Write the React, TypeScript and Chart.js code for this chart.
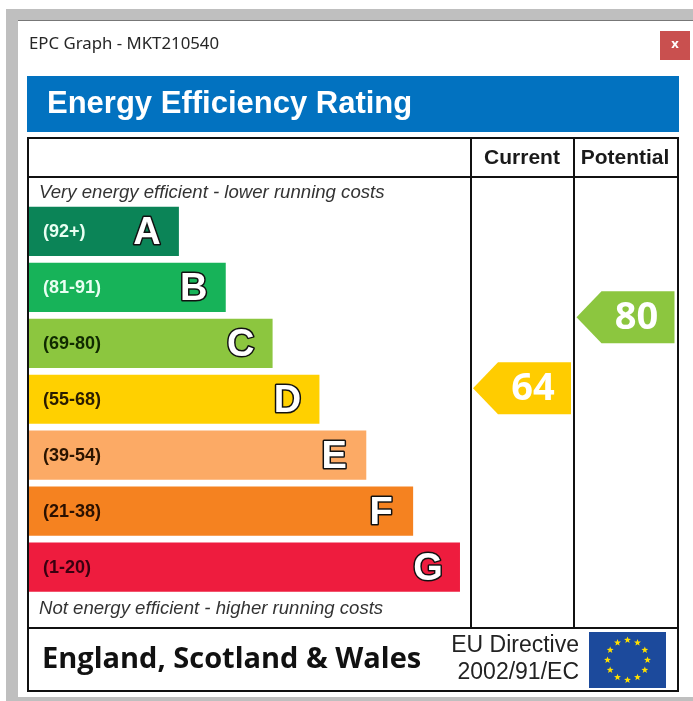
import React, { useEffect, useRef } from "react";
import { Chart, registerables } from "chart.js";

Chart.register(...registerables);

const bandLetters = ["A", "B", "C", "D", "E", "F", "G"];
const bandRanges = ["(92+)", "(81-91)", "(69-80)", "(55-68)", "(39-54)", "(21-38)", "(1-20)"];
const bandLengths = [32, 42, 52, 62, 72, 82, 92];
const bandColors = ["#0b8457", "#17b359", "#8cc63f", "#ffd000", "#fcaa65", "#f58220", "#ee1c3e"];
const rangeColors = ["#e8fff2", "#e8fff2", "#102a00", "#2a1c00", "#2a1400", "#2a1000", "#3a0010"];
const columnNames = ["Current", "Potential"];
const ratingValues = [64, 80];
const ratingColors = ["#ffcc00", "#8cc63f"];

const epcPlugin = {
  id: "epc",
  beforeDraw(chart: any) {
    const c = chart.ctx;
    c.save();
    c.fillStyle = "#ffffff";
    c.fillRect(0, 0, 693, 701);
    c.fillStyle = "#bfbfbf";
    c.fillRect(6, 9, 687, 692);
    c.fillStyle = "#ffffff";
    c.fillRect(18, 21, 675, 676);
    c.fillStyle = "#777777";
    c.fillRect(18, 20, 675, 1);
    c.fillStyle = "#262626";
    c.font = "16.8px 'Noto Sans'";
    c.textBaseline = "middle";
    c.textAlign = "left";
    c.fillText("EPC Graph - MKT210540", 29, 44);
    c.fillStyle = "#c9504f";
    c.fillRect(660, 31, 30, 29);
    c.fillStyle = "#ffffff";
    c.font = "bold 13px 'Noto Sans'";
    c.textAlign = "center";
    c.fillText("x", 675, 44);
    c.fillStyle = "#0272c0";
    c.fillRect(27, 76, 652, 56);
    c.fillStyle = "#ffffff";
    c.font = "bold 31px 'Liberation Sans'";
    c.textAlign = "left";
    c.fillText("Energy Efficiency Rating", 47, 104);

    c.strokeStyle = "#111111";
    c.lineWidth = 2;
    c.strokeRect(28, 138, 650, 553);
    const line = (x1: number, y1: number, x2: number, y2: number) => {
      c.beginPath();
      c.moveTo(x1, y1);
      c.lineTo(x2, y2);
      c.stroke();
    };
    line(28, 177, 678, 177);
    line(28, 628, 678, 628);
    line(471, 138, 471, 628);
    line(574, 138, 574, 628);

    c.fillStyle = "#1a1a1a";
    c.font = "bold 21px 'Liberation Sans'";
    c.textAlign = "center";
    c.fillText(columnNames[0], 522, 158);
    c.fillText(columnNames[1], 625, 158);
    c.fillStyle = "#333333";
    c.font = "italic 18.6px 'Liberation Sans'";
    c.textAlign = "left";
    c.fillText("Very energy efficient - lower running costs", 39, 193);
    c.fillText("Not energy efficient - higher running costs", 39, 609);

    c.fillStyle = "#111111";
    c.font = "bold 29px 'Open Sans'";
    c.fillText("England, Scotland & Wales", 42, 660);
    c.fillStyle = "#222222";
    c.font = "23px 'Liberation Sans'";
    c.textAlign = "right";
    c.fillText("EU Directive", 579, 646);
    c.fillText("2002/91/EC", 579, 673);

    c.fillStyle = "#1c4a9c";
    c.fillRect(589, 632, 77, 56);
    const star = (cx: number, cy: number, r: number) => {
      c.beginPath();
      for (let i = 0; i < 10; i++) {
        const rad = i % 2 ? r * 0.42 : r;
        const a = -Math.PI / 2 + (i * Math.PI) / 5;
        c.lineTo(cx + rad * Math.cos(a), cy + rad * Math.sin(a));
      }
      c.closePath();
      c.fill();
    };
    c.fillStyle = "#ffe000";
    for (let i = 0; i < 12; i++) {
      const a = (i * Math.PI) / 6;
      star(627.5 + 20 * Math.cos(a), 660 + 20 * Math.sin(a), 3.6);
    }
    c.restore();
  },
  afterDatasetsDraw(chart: any) {
    const c = chart.ctx;
    c.save();
    c.textBaseline = "middle";
    chart.getDatasetMeta(0).data.forEach((bar: any, i: number) => {
      c.textAlign = "left";
      c.fillStyle = rangeColors[i];
      c.font = "bold 18px 'Liberation Sans'";
      c.fillText(bandRanges[i], 43, bar.y + 0.5);
      c.textAlign = "center";
      c.font = "bold 38px 'Liberation Sans'";
      c.lineJoin = "round";
      c.lineWidth = 3;
      c.strokeStyle = "#111111";
      c.strokeText(bandLetters[i], bar.x - 32, bar.y + 2);
      c.fillStyle = "#ffffff";
      c.fillText(bandLetters[i], bar.x - 32, bar.y + 2);
    });
    chart.getDatasetMeta(1).data.forEach((pt: any, i: number) => {
      const { x, y } = pt;
      c.fillStyle = ratingColors[i];
      c.beginPath();
      c.moveTo(x - 49, y);
      c.lineTo(x - 24, y - 26);
      c.lineTo(x + 49, y - 26);
      c.lineTo(x + 49, y + 26);
      c.lineTo(x - 24, y + 26);
      c.closePath();
      c.fill();
      c.fillStyle = "#ffffff";
      c.font = "bold 38px 'Open Sans'";
      c.textAlign = "center";
      c.fillText(String(ratingValues[i]), x + 11, y + 1);
    });
    c.restore();
  },
};

export default function App() {
  const ref = useRef<HTMLCanvasElement>(null);
  useEffect(() => {
    const chart = new Chart(ref.current!, {
      type: "bar",
      data: {
        labels: bandLetters,
        datasets: [
          {
            type: "bar",
            indexAxis: "y",
            data: bandLengths,
            backgroundColor: bandColors,
            grouped: false,
            barPercentage: 0.88,
            categoryPercentage: 1,
            xAxisID: "x",
            yAxisID: "y",
          },
          {
            type: "scatter",
            data: ratingValues.map((v, i) => ({ x: i, y: v })),
            pointRadius: 0,
            xAxisID: "xc",
            yAxisID: "yr",
          },
        ],
      } as any,
      options: {
        indexAxis: "y",
        responsive: false,
        animation: false,
        layout: { padding: { left: 29, right: 18, top: 203.5, bottom: 106 } },
        plugins: { legend: { display: false }, tooltip: { enabled: false } },
        scales: {
          x: { type: "linear", display: false, min: 0, max: 137.9, offset: false },
          y: { type: "category", display: false, labels: bandLetters, offset: true },
          xc: { type: "linear", display: false, min: -4.763, max: 1.478, offset: false },
          yr: { type: "linear", display: false, min: 17.4, max: 105.6, offset: false },
        },
      } as any,
      plugins: [epcPlugin],
    });
    return () => chart.destroy();
  }, []);
  return (
    <div style={{ position: "absolute", left: 0, top: 0, width: 693, height: 701 }}>
      <canvas ref={ref} width={693} height={701} style={{ display: "block" }} />
    </div>
  );
}
